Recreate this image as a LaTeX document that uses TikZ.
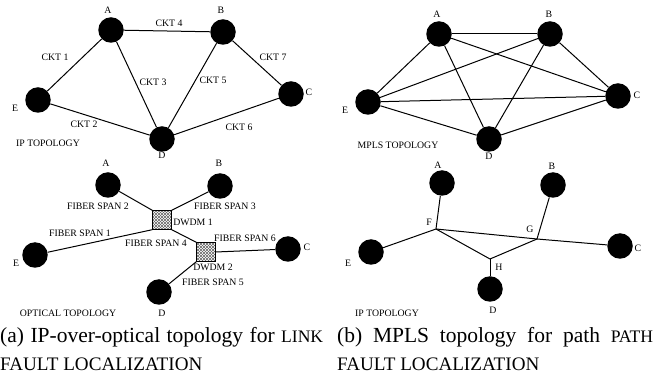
\documentclass[tikz,border=0pt]{standalone}
\usepackage{fontspec}
\setmainfont{Liberation Serif}
\usetikzlibrary{patterns}

\newcommand{\smallcap}[1]{{\fontsize{17.6}{28}\selectfont #1}}
\newcommand{\largecap}[1]{{\fontsize{19.1}{28}\selectfont #1}}

\begin{document}
\begin{tikzpicture}[x=1pt,y=-1pt,
		router/.style={circle,fill=black,minimum size=25.5pt,inner sep=0pt},
		dwdm/.style={draw,rectangle,minimum size=19pt,inner sep=0pt,
			preaction={pattern=north east lines,pattern color=black!60},
			pattern=north west lines,pattern color=black!60},
		lbl/.style={font=\fontsize{9.8}{12}\selectfont,inner sep=1pt},
		link/.style={line width=1pt},
		capt/.style={font=\fontsize{21.5}{28}\selectfont,inner sep=0pt,
			anchor=north west,align=justify}]
		\useasboundingbox (0,0) rectangle (654,379);
		%\draw[help lines,step=20] (0,0) grid (654,379);

		% IP topology, top left
		\foreach \n/\x/\y in {A/111/30, B/223/32, C/291/94, E/38/100, D/162/139} {
			\node[router] (ip\n) at (\x,\y) {};
		}
		\foreach \n/\x/\y in {A/108/10, B/221/10, C/309/92, E/15/108, D/162/155} {
			\node[lbl] (ipl\n) at (\x,\y) {\n};
		}
		\foreach \a/\b in {A/B, A/E, A/D, B/D, B/C, E/D, D/C} {
			\draw[link] (ip\a) -- (ip\b);
		}
		\foreach \k/\x/\y in {1/55/57, 2/84/124, 3/153/82, 4/169/23, 5/213/80, 6/239/127, 7/273/57} {
			\node[lbl] (ckt\k) at (\x,\y) {CKT \k};
		}
		\node[lbl] (iptitle) at (48,143) {IP TOPOLOGY};

		% MPLS topology, top right
		\foreach \n/\x/\y in {A/439/34, B/550/34, C/618/96, E/368/102, D/489/139} {
			\node[router] (mp\n) at (\x,\y) {};
		}
		\foreach \n/\x/\y in {A/437/14, B/549/14, C/637/95, E/345/110, D/489/156} {
			\node[lbl] (mpl\n) at (\x,\y) {\n};
		}
		\foreach \a/\b in {A/B, A/C, A/D, A/E, B/C, B/D, B/E, C/D, C/E, D/E} {
			\draw[link] (mp\a) -- (mp\b);
		}
		\node[lbl] (mptitle) at (398,145) {MPLS TOPOLOGY};

		% optical topology, bottom left
		\foreach \n/\x/\y in {A/108/185, B/220/186, C/288/249, E/35/255, D/159/292} {
			\node[router] (op\n) at (\x,\y) {};
		}
		\foreach \n/\x/\y in {A/106/163, B/219/163, C/307/247, E/16/263, D/162/313} {
			\node[lbl] (opl\n) at (\x,\y) {\n};
		}
		\node[dwdm] (dw1) at (162,220) {};
		\node[dwdm] (dw2) at (206,252) {};
		\node[lbl] (dwl1) at (193,222) {DWDM 1};
		\node[lbl] (dwl2) at (213,267) {DWDM 2};
		\draw[link] (opE) -- (dw1.south west);
		\draw[link] (opA) -- (dw1.north west);
		\draw[link] (opB) -- (dw1.north east);
		\draw[link] (dw1.south east) -- (dw2.north west);
		\draw[link] (dw2.east) -- (opC);
		\draw[link] (dw2.south west) -- (opD);
		\foreach \k/\x/\y in {1/80/233, 2/98/206, 3/225/206, 4/156/243, 5/213/282, 6/245/238} {
			\node[lbl] (span\k) at (\x,\y) {FIBER SPAN \k};
		}
		\node[lbl] (optitle) at (68,313) {OPTICAL TOPOLOGY};

		% IP topology over paths, bottom right
		\foreach \n/\x/\y in {A/442/183, B/553/185, C/620/246, E/371/252, D/490/289} {
			\node[router] (pt\n) at (\x,\y) {};
		}
		\foreach \n/\x/\y in {A/438/165, B/552/166, C/638/248, E/348/263, D/493/310} {
			\node[lbl] (ptl\n) at (\x,\y) {\n};
		}
		\coordinate (ptF) at (436,229);
		\coordinate (ptG) at (537,239);
		\coordinate (ptH) at (490,259);
		\node[lbl] (ptlF) at (429,222) {F};
		\node[lbl] (ptlG) at (530,229) {G};
		\node[lbl] (ptlH) at (499,267) {H};
		\foreach \a/\b in {A/F, E/F, F/G, G/C, B/G, F/H, H/G, H/D} {
			\draw[link] (pt\a) -- (pt\b);
		}
		\node[lbl] (pttitle) at (387,313) {IP TOPOLOGY};

		% captions
		\node[capt,text width=323pt] (capa) at (0,327)
			{(a) IP-over-optical topology for \smallcap{LINK}\linebreak
			\largecap{FAULT LOCALIZATION}};
		\node[capt,text width=316pt] (capb) at (337,327)
			{(b) MPLS topology for path \smallcap{PATH}\linebreak
			\largecap{FAULT LOCALIZATION}};
\end{tikzpicture}
\end{document}
